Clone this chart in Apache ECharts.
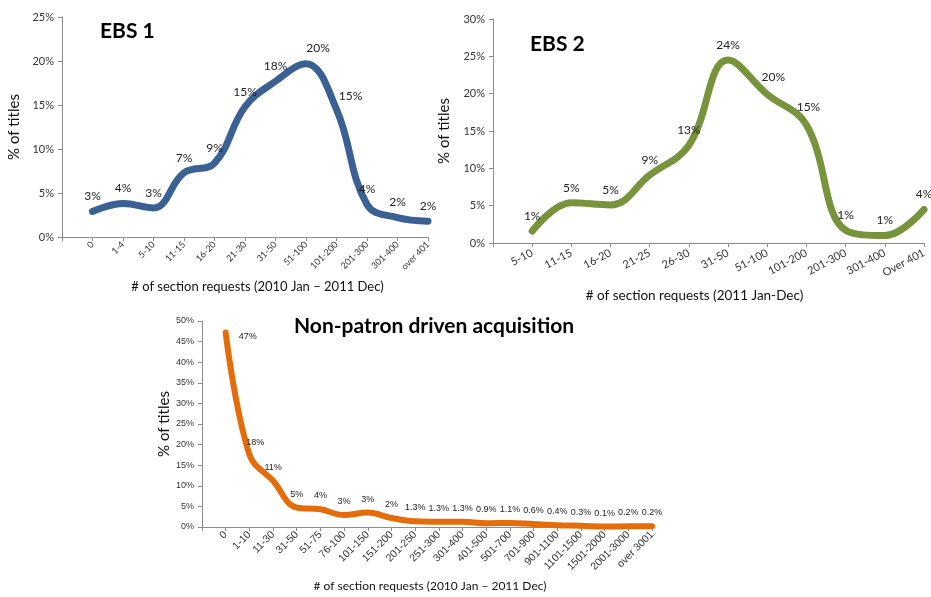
<!DOCTYPE html>
<html>
<head>
<meta charset="utf-8">
<script src="https://cdn.jsdelivr.net/npm/echarts/dist/echarts.min.js"></script>
<style>
  html, body { margin: 0; padding: 0; background: #fff; }
  #main { width: 931px; height: 597px; }
</style>
</head>
<body>
<div id="main"></div>
<script>
// EBS 1
var ebs1Cats = ['0', '1-4', '5-10', '11-15', '16-20', '21-30', '31-50', '51-100', '101-200', '201-300', '301-400', 'over 401'];
var ebs1Values = [2.9, 3.8, 3.3, 7.3, 8.4, 14.8, 17.7, 19.7, 14.5, 3.7, 2.2, 1.8];
var ebs1Labels = ['3%', '4%', '3%', '7%', '9%', '15%', '18%', '20%', '15%', '4%', '2%', '2%'];

// EBS 2
var ebs2Cats = ['5-10', '11-15', '16-20', '21-25', '26-30', '31-50', '51-100', '101-200', '201-300', '301-400', 'Over 401'];
var ebs2Values = [1.6, 5.4, 5.1, 9.1, 13.1, 24.5, 19.9, 15.8, 1.7, 1.0, 4.5];
var ebs2Labels = ['1%', '5%', '5%', '9%', '13%', '24%', '20%', '15%', '1%', '1%', '4%'];

// Non-patron driven acquisition
var npCats = ['0', '1-10', '11-30', '31-50', '51-75', '76-100', '101-150', '151-200', '201-250', '251-300', '301-400',
  '401-500', '501-700', '701-900', '901-1100', '1101-1500', '1501-2000', '2001-3000', 'over 3001'];
var npValues = [47.2, 17.6, 11.2, 4.7, 4.3, 2.9, 3.5, 2.2, 1.4, 1.3, 1.3, 0.9, 1.0, 0.7, 0.4, 0.3, 0.1, 0.2, 0.2];
var npLabels = ['47%', '18%', '11%', '5%', '4%', '3%', '3%', '2%', '1.3%', '1.3%', '1.3%', '0.9%', '1.1%', '0.6%',
  '0.4%', '0.3%', '0.1%', '0.2%', '0.2%'];

var font = 'Lato, "Liberation Sans", sans-serif';
var arial = '"Liberation Sans", Arial, sans-serif';
var axisGray = '#8c8c8c';

// leading blank category so the first point sits one step in from the y axis
function withBlank(cats) {
  return [''].concat(cats);
}
function makeData(values, labels) {
  var out = ['-'];
  values.forEach(function (v, i) {
    out.push({ value: v, label: { formatter: labels[i] } });
  });
  return out;
}

function xAxisFor(idx, cats, name, rotate, fs, margin, gap, nameFs, namePad, fam) {
  return {
    type: 'category', gridIndex: idx, data: withBlank(cats), boundaryGap: false,
    axisLine: { lineStyle: { color: axisGray, width: 1 } },
    axisTick: { length: 4, lineStyle: { color: axisGray } },
    axisLabel: { interval: 0, rotate: rotate, fontSize: fs, color: '#333', fontFamily: fam, margin: margin },
    name: name, nameLocation: 'middle', nameGap: gap,
    nameTextStyle: { fontSize: nameFs, color: '#111', fontFamily: font, padding: namePad }
  };
}
function yAxisFor(idx, max, fs, gap, fam) {
  return {
    type: 'value', gridIndex: idx, min: 0, max: max, interval: 5,
    splitLine: { show: false },
    axisLine: { show: true, lineStyle: { color: axisGray, width: 1 } },
    axisTick: { show: true, length: 4, lineStyle: { color: axisGray } },
    axisLabel: { formatter: '{value}%', fontSize: fs, color: '#333', fontFamily: fam, margin: 8 },
    name: '% of titles', nameLocation: 'middle', nameGap: gap,
    nameTextStyle: { fontSize: 15, color: '#111', fontFamily: font }
  };
}
function lineSeries(idx, values, labels, color, width, lfs, fam) {
  var data = makeData(values, labels);
  return {
    type: 'line', xAxisIndex: idx, yAxisIndex: idx, data: data,
    smooth: 0.4, symbol: 'circle', symbolSize: 0.1, showSymbol: true,
    lineStyle: { color: color, width: width, cap: 'round' },
    itemStyle: { color: color },
    label: { show: true, position: 'top', distance: 9, fontSize: lfs, color: '#222', fontFamily: fam }
  };
}

var chart = echarts.init(document.getElementById('main'), null, { renderer: 'canvas' });

var s1 = lineSeries(0, ebs1Values, ebs1Labels, '#3A6094', 7, 12, font);
var s2 = lineSeries(1, ebs2Values, ebs2Labels, '#77933C', 7, 12, font);
var s3 = lineSeries(2, npValues, npLabels, '#E46C0A', 6, 9, arial);
// a few labels sit off to the right of the line in the original
s1.data[8].label.offset = [12, 0];
s1.data[9].label.offset = [14, 2];
s2.data[7].label.offset = [6, -2];
s2.data[8].label.offset = [2, -3];
s3.data[1].label.position = 'right';
s3.data[1].label.offset = [4, 4];
s3.data[2].label.offset = [6, 2];

var option = {
  backgroundColor: '#ffffff',
  animation: false,
  title: [
    { text: 'EBS 1', left: 95, top: 16, textStyle: { fontSize: 21, fontWeight: 'bold', color: '#000', fontFamily: font } },
    { text: 'EBS 2', left: 525, top: 29, textStyle: { fontSize: 21, fontWeight: 'bold', color: '#000', fontFamily: font } },
    { text: 'Non-patron driven acquisition', left: 289, top: 311, textStyle: { fontSize: 21, fontWeight: 'bold', color: '#000', fontFamily: font } }
  ],
  grid: [
    { left: 62, top: 17, width: 366, height: 220 },
    { left: 493, top: 19, width: 431, height: 224 },
    { left: 202, top: 321, width: 450, height: 206 }
  ],
  xAxis: [
    xAxisFor(0, ebs1Cats, '# of section requests (2010 Jan \u2013 2011 Dec)', 45, 9, 6, 43, 13, [0, 0, 0, 25], font),
    xAxisFor(1, ebs2Cats, '# of section requests (2011 Jan-Dec)', 28, 11, 9, 46, 13.5, [0, 28, 0, 0], font),
    xAxisFor(2, npCats, '# of section requests (2010 Jan \u2013 2011 Dec)', 45, 10.5, 6, 53, 12, [0, 0, 0, 6], arial)
  ],
  yAxis: [
    yAxisFor(0, 25, 11, 40, font),
    yAxisFor(1, 30, 11, 41, font),
    yAxisFor(2, 50, 9, 30, arial)
  ],
  series: [s1, s2, s3]
};

chart.setOption(option);
</script>
</body>
</html>
